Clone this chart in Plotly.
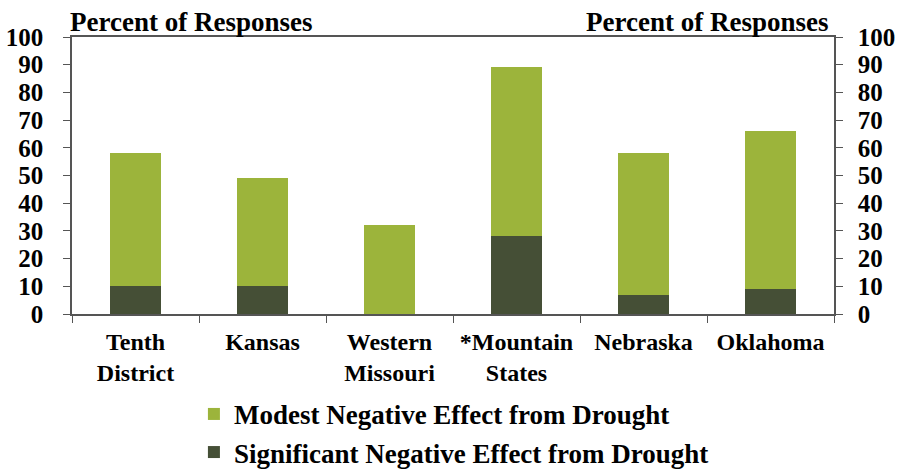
import plotly.graph_objects as go

categories = ["Tenth<br>District", "Kansas", "Western<br>Missouri", "*Mountain<br>States", "Nebraska", "Oklahoma"]
significant = [10, 10, 0, 28, 7, 9]
modest = [48, 39, 32, 61, 51, 57]
y_ticks = [0, 10, 20, 30, 40, 50, 60, 70, 80, 90, 100]

LIGHT = "#9CB43B"
DARK = "#454F36"
FONT = "Liberation Serif"

fig = go.Figure()
fig.add_trace(go.Bar(x=categories, y=significant, name="Significant Negative Effect from Drought",
                     marker=dict(color=DARK, line=dict(width=0)), width=0.4))
fig.add_trace(go.Bar(x=categories, y=modest, name="Modest Negative Effect from Drought",
                     marker=dict(color=LIGHT, line=dict(width=0)), width=0.4))
fig.add_trace(go.Scatter(x=categories, y=[None]*len(categories), yaxis="y2", mode="none",
                         showlegend=False, hoverinfo="skip"))

tickfont = dict(family=FONT, size=25, color="black", weight="bold")

fig.update_layout(
    width=900, height=469,
    barmode="stack",
    plot_bgcolor="white", paper_bgcolor="white",
    margin=dict(l=72, r=66, t=37, b=155, autoexpand=False),
    font=dict(family=FONT, color="black"),
    xaxis=dict(type="category", tickson="boundaries", ticks="outside", ticklen=7,
               tickcolor="#555", showline=True, linecolor="#555", linewidth=1.5, mirror=True,
               tickfont=dict(family=FONT, size=24, color="black", weight="bold"),
               ticklabelstandoff=5, showgrid=False, automargin=False),
    yaxis=dict(range=[0, 100], tickvals=y_ticks, ticks="outside", ticklen=7, tickcolor="#555",
               showline=True, linecolor="#555", linewidth=1.5, showgrid=False,
               tickfont=tickfont, zeroline=False, ticklabelstandoff=15, automargin=False),
    yaxis2=dict(range=[0, 100], tickvals=y_ticks, overlaying="y", side="right",
                ticks="outside", ticklen=7, tickcolor="#555",
                showline=True, linecolor="#555", linewidth=1.5, showgrid=False,
                tickfont=tickfont, zeroline=False, ticklabelstandoff=10, automargin=False),
    legend=dict(x=0.16, y=-0.274, xanchor="left", yanchor="top", traceorder="reversed",
                font=dict(family=FONT, size=27, color="black", weight="bold"),
                itemwidth=30, tracegroupgap=0, bgcolor="rgba(0,0,0,0)"),
    annotations=[
        dict(text="Percent of Responses", xref="paper", yref="paper", x=0, y=1, xshift=-4,
             xanchor="left", yanchor="bottom", yshift=-2, showarrow=False,
             font=dict(family=FONT, size=27, color="black", weight="bold")),
        dict(text="Percent of Responses", xref="paper", yref="paper", x=1, y=1, xshift=-4,
             xanchor="right", yanchor="bottom", yshift=-2, showarrow=False,
             font=dict(family=FONT, size=27, color="black", weight="bold")),
    ],
)

fig.write_html("out.html", config={"displayModeBar": False},
               post_script="document.body.style.margin='0';document.body.style.overflow='hidden';")
